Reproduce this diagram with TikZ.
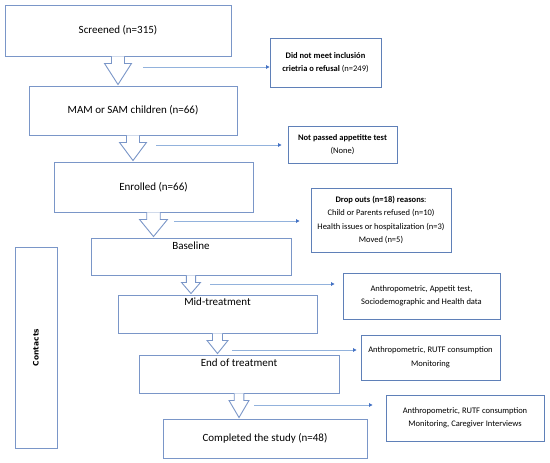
\documentclass[tikz,border=0pt]{standalone}
\usepackage{fontspec}
\setmainfont{Carlito}
\newfontfamily\contactsfont{DejaVu Sans}
\usetikzlibrary{calc,arrows.meta}
\definecolor{boxblue}{HTML}{7A96C8}
\definecolor{sideblue}{HTML}{5F80B8}
\definecolor{lineblue}{HTML}{92B2DC}
\definecolor{tipblue}{HTML}{4472C4}
\tikzset{
  mainbox/.style={draw=boxblue, line width=0.9pt, inner sep=0pt, font=\fontsize{11}{13}\selectfont},
  toplabel/.style={anchor=north, inner sep=4pt, font=\fontsize{11}{13}\selectfont},
  sidebox/.style={draw=sideblue, line width=0.9pt, inner sep=0pt, align=center, font=\fontsize{8.5}{13.5}\selectfont},
  arrowline/.style={draw=boxblue, line width=0.9pt, line join=miter, fill=white},
  sideline/.style={draw=lineblue, line width=0.9pt, -{Triangle[length=3.5pt, width=3.5pt, color=tipblue]}}
}
% hollow block arrow from one box down to the next
\newcommand{\hollowarrow}[3][13]{%
  \draw[arrowline] let \p1=(#2.south), \p2=(#3.north) in
    ({\x1-#1pt*0.48},\y1) -- ({\x1-#1pt*0.48},{\y1-7pt}) -- ({\x1-#1pt},{\y1-7pt})
    -- (\x1,{\y2+1pt}) -- ({\x1+#1pt},{\y1-7pt}) -- ({\x1+#1pt*0.48},{\y1-7pt})
    -- ({\x1+#1pt*0.48},\y1);}
\begin{document}
\begin{tikzpicture}[x=1pt, y={(0,-1pt)}]
    \useasboundingbox (0,0) rectangle (550,463);
    % main column
    \node[mainbox, minimum width=226pt, minimum height=51pt] (screened) at (118,30.5) {Screened (n=315)};
    \node[mainbox, minimum width=208pt, minimum height=49pt] (mam) at (133,110.5) {MAM or SAM children (n=66)};
    \node[mainbox, minimum width=199pt, minimum height=50pt] (enrolled) at (153.5,187) {Enrolled (n=66)};
    \node[mainbox, minimum width=200pt, minimum height=37pt, label={[toplabel]north:Baseline}] (baseline) at (191,256.5) {};
    \node[mainbox, minimum width=199pt, minimum height=38pt, label={[toplabel, inner sep=3pt]north:Mid-treatment}] (mid) at (217.5,314) {};
    \node[mainbox, minimum width=200pt, minimum height=38pt, label={[toplabel]north:End of treatment}] (end) at (239,374) {};
    \node[mainbox, minimum width=204pt, minimum height=39pt] (completed) at (265,438.5) {Completed the study (n=48)};
    \node[mainbox, minimum width=42pt, minimum height=201pt] (contacts) at (36,347.5) {};
    \node[rotate=90, font=\contactsfont\bfseries\fontsize{7.5}{9}\selectfont] (contactstext) at (36,347.5) {Contacts};
    % side boxes
    \node[sidebox, minimum width=111pt, minimum height=49pt] (noinc) at (325.5,62.5) {\textbf{Did not meet inclusión}\\\textbf{crietria o refusal} (n=249)};
    \node[sidebox, minimum width=109pt, minimum height=37pt] (noapp) at (342.5,144.5) {\textbf{Not passed appetitte test}\\(None)};
    \node[sidebox, minimum width=140pt, minimum height=64pt] (dropout) at (381,220) {\textbf{Drop outs (n=18) reasons}:\\Child or Parents refused (n=10)\\Health issues or hospitalization (n=3)\\Moved (n=5)};
    \node[sidebox, minimum width=157pt, minimum height=46pt] (basedata) at (421.5,296) {Anthropometric, Appetit test,\\Sociodemographic and Health data};
    \node[sidebox, minimum width=139pt, minimum height=45pt] (middata) at (430.5,357.5) {Anthropometric, RUTF consumption\\Monitoring};
    \node[sidebox, minimum width=158pt, minimum height=46pt] (enddata) at (465,418) {Anthropometric, RUTF consumption\\Monitoring, Caregiver Interviews};
    % block arrows
    \foreach \a/\b/\w in {screened/mam/13.5, mam/enrolled/13.5, enrolled/baseline/14, baseline/mid/9.5, mid/end/10.5, end/completed/10}{
        \hollowarrow[\w]{\a}{\b}
    }
    % side connectors
    \coordinate (l1) at (143,67);
    \coordinate (l2) at (156,145);
    \coordinate (l3) at (174,221);
    \coordinate (l4) at (210,284);
    \coordinate (l5) at (232,350);
    \coordinate (l6) at (254,405);
    \foreach \s/\t/\g in {l1/noinc/0, l2/noapp/6, l3/dropout/11, l4/basedata/8, l5/middata/4, l6/enddata/13}{
        \draw[sideline, shorten >=\g pt] (\s) -- (\s -| \t.west);
    }
\end{tikzpicture}
\end{document}
